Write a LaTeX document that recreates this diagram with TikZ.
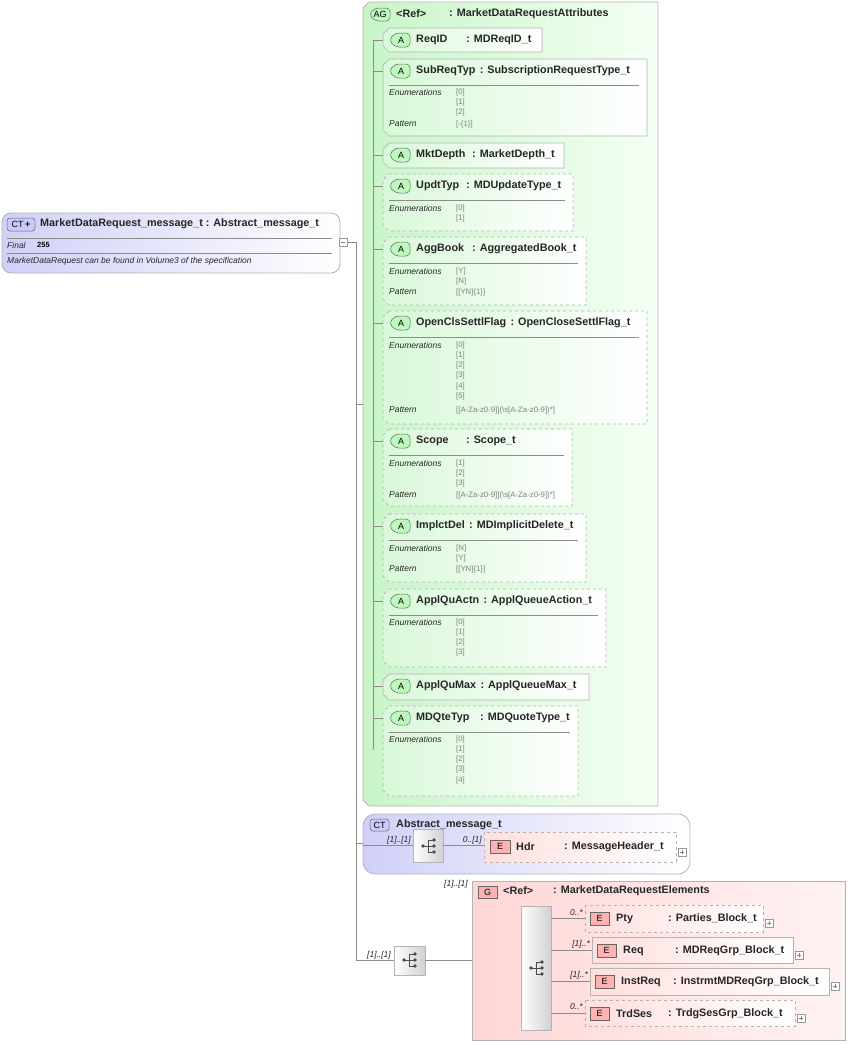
\documentclass[tikz,border=0pt]{standalone}
\usepackage{fontspec}
\setmainfont{Liberation Sans}
\usetikzlibrary{calc}
\definecolor{agg}{HTML}{C8F5C8}
\definecolor{ctb}{HTML}{D0D0F8}
\definecolor{gpk}{HTML}{FFD6D6}
\definecolor{bdr}{HTML}{B4B4B4}
\tikzset{
 lbl/.style={inner sep=0pt,anchor=west,font=\bfseries\fontsize{10.8}{12}\selectfont,text=black!85},
 sm/.style={inner sep=0pt,anchor=west,font=\itshape\fontsize{8.5}{9}\selectfont,text=black!85},
 val/.style={inner sep=0pt,anchor=west,font=\fontsize{7.8}{8}\selectfont,text=black!50},
 card/.style={inner sep=0pt,font=\itshape\fontsize{8.5}{9}\selectfont,text=black!85},
 bdg/.style={inner sep=0pt,font=\fontsize{9}{10}\selectfont},
 ln/.style={draw=black!45,line width=0.5pt},
 abox/.style={draw=bdr,line width=0.7pt,left color=agg!70,right color=white},
 badgeA/.style={draw=black!60,fill=agg!80!green!70,line width=0.5pt,rounded corners=4},
 ebox/.style={draw=bdr,line width=0.7pt,left color=gpk!80,right color=white},
 badgeE/.style={draw=black!60,fill=red!30,line width=0.5pt},
 seq/.style={draw=bdr,left color=white,right color=black!18,line width=0.6pt},
 plusb/.style={draw=black!40,fill=white,line width=0.4pt},
}
\newcommand\attrbox[8]{%
 \draw[abox,#5] (389,#2)--(#4,#2)--(#4,#3)--(389,#3)--(383,#3-6)--(383,#2+6)--cycle;
 \draw[badgeA] (410,#2+5)--(395,#2+5)--(389,#2+12)--(395,#2+19)--(410,#2+19)--cycle;
 \node[bdg] at (401,#2+12) {A};
 \node[lbl] (#1) at (416,#2+12) {#6};
 \path let \p1=(#1.east) in node[lbl] (#1t) at ({max(\x1+4,#7)},#2+12) {: #8};
 \coordinate (#1c) at (383,#2+12);
 \draw[ln] (373,#2+12)--(#1c);
}
\newcommand\sepl[2]{\draw[black!45,line width=0.5pt] (389,#1)--(#2,#1);}
\newcommand\enums[2]{%
 \node[sm] at (389,#1) {Enumerations};
 \foreach \v [count=\i from 0] in {#2} {\node[val] at (456,#1+\i*10.3) {[\v]};}
}
\newcommand\patt[2]{\node[sm] at (389,#1) {Pattern}; \node[val] at (456,#1) {#2};}
\newcommand\seqicon[2]{%
 \draw[black!70,line width=0.7pt] (#1-6,#2)--(#1-1,#2) (#1-1,#2-6)--(#1-1,#2+6) (#1-1,#2-6)--(#1+5,#2-6) (#1-1,#2)--(#1+5,#2) (#1-1,#2+6)--(#1+5,#2+6);
 \fill[black!70] (#1-6,#2) circle(1.8) (#1+5,#2-6) circle(1.9) (#1+5,#2) circle(1.9) (#1+5,#2+6) circle(1.9);
}
\newcommand\plusmark[2]{\draw[plusb] (#1,#2-4) rectangle (#1+8,#2+4); \draw[black!50,line width=0.4pt] (#1+2,#2)--(#1+6,#2) (#1+4,#2-2)--(#1+4,#2+2);}
\begin{document}
\begin{tikzpicture}[x=1pt,y=-1pt]
\useasboundingbox (0,0) rectangle (851,1045);
\coordinate (trb) at (356,960);
% AG box
\draw[draw=bdr,line width=0.8pt,left color=agg,right color=white!96!green] (369,2)--(658,2)--(658,806)--(369,806)--(363,800)--(363,8)--cycle;
\draw[badgeA] (390,8)--(375,8)--(369,14.5)--(375,21)--(390,21)--cycle;
\node[bdg] at (380,14.5) {AG};
\node[lbl] (agref) at (396,14) {<Ref>};
\node[lbl] (agname) at (449,14) {: MarketDataRequestAttributes};
\draw[ln] (373,40)--(373,750);
\attrbox{a1}{28}{52}{542}{solid}{ReqID}{466}{MDReqID\_t}
\attrbox{a2}{59}{136}{647}{solid}{SubReqTyp}{466}{SubscriptionRequestType\_t}
\sepl{85}{639}\enums{92}{0,1,2}\patt{124}{[-\{1\}]}
\attrbox{a3}{143}{168}{564}{solid}{MktDepth}{472}{MarketDepth\_t}
\attrbox{a4}{174}{231}{573}{dashed}{UpdtTyp}{466}{MDUpdateType\_t}
\sepl{200}{565}\enums{208}{0,1}
\attrbox{a5}{237}{305}{586}{dashed}{AggBook}{472}{AggregatedBook\_t}
\sepl{263}{578}\enums{271}{Y,N}\patt{292}{[[YN]\{1\}]}
\attrbox{a6}{311}{424}{647}{dashed}{OpenClsSettlFlag}{500}{OpenCloseSettlFlag\_t}
\sepl{337}{639}\enums{345}{0,1,2,3,4,5}\patt{410}{[[A-Za-z0-9]](\textbackslash s[A-Za-z0-9])*]}
\attrbox{a7}{429}{506}{572}{dashed}{Scope}{466}{Scope\_t}
\sepl{455}{564}\enums{463}{1,2,3}\patt{495}{[[A-Za-z0-9]](\textbackslash s[A-Za-z0-9])*]}
\attrbox{a8}{514}{582}{586}{dashed}{ImplctDel}{466}{MDImplicitDelete\_t}
\sepl{540}{578}\enums{548}{N,Y}\patt{569}{[[YN]\{1\}]}
\attrbox{a9}{589}{667}{606}{dashed}{ApplQuActn}{468}{ApplQueueAction\_t}
\sepl{615}{598}\enums{622}{0,1,2,3}
\attrbox{a10}{674}{700}{589}{solid}{ApplQuMax}{468}{ApplQueueMax\_t}
\attrbox{a11}{706}{796}{578}{dashed}{MDQteTyp}{480}{MDQuoteType\_t}
\sepl{732}{570}\enums{739}{0,1,2,3,4}
% main CT box
\draw[draw=bdr,line width=0.8pt,left color=ctb,right color=white,rounded corners=9] (2,213) rectangle (340,273);
\draw[draw=black!60,fill=ctb!80!blue!60,rounded corners=3,line width=0.5pt] (7,218) rectangle (35,231);
\node[bdg] at (21,224.5) {CT\,\textbf{+}};
\node[lbl] (ct) at (40,224) {MarketDataRequest\_message\_t : Abstract\_message\_t};
\draw[black!45,line width=0.5pt] (7,238)--(332,238) (7,253)--(332,253);
\node[sm] at (7,245) {Final};
\node[inner sep=0pt,anchor=west,font=\bfseries\fontsize{7.5}{8}\selectfont] at (37,244.5) {255};
\node[sm] at (7,261) {MarketDataRequest can be found in Volume3 of the specification};
\draw[plusb] (339,238) rectangle (347,246);
\draw[black!50,line width=0.4pt] (341,242)--(345,242);
\draw[ln] (347,242)--(356,242)--(trb);
\draw[ln] (356,404)--(363,404);
% Abstract CT
\draw[draw=bdr,line width=0.8pt,left color=ctb,right color=white,rounded corners=12] (363,814) rectangle (690,874);
\draw[draw=black!60,fill=ctb!80!blue!60,rounded corners=3,line width=0.5pt] (370,819) rectangle (389,831);
\node[bdg] at (379.5,825) {CT};
\node[lbl] (abs) at (396,825) {Abstract\_message\_t};
\draw[ln] (356,843)--(363,843);
\draw[seq] (413,829) rectangle (443,862);
\seqicon{429}{846}
\draw[ln] (363,845)--(413,845);
\node[card,anchor=east] at (411,840) {[1]..[1]};
\draw[ln] (443,845)--(484,845);
\node[card,anchor=east] at (482,840) {0..[1]};
\draw[ebox,dashed] (484,832) rectangle (676,862);
\draw[badgeE] (490,840) rectangle (510,853);
\node[bdg] at (500,846.5) {E};
\node[lbl] (hdr) at (516,847) {Hdr};
\node[lbl] at (564,847) {: MessageHeader\_t};
\plusmark{678}{852}
% bottom seq
\draw[ln] (trb)--(394,960);
\node[card,anchor=east] at (391,955) {[1]..[1]};
\draw[seq] (394,946) rectangle (425,975);
\seqicon{410}{960}
\draw[ln] (425,960)--(521,960);
\node[card,anchor=east] at (518,955) {[1]..[1]};
% G box
\draw[draw=bdr,line width=0.8pt,left color=gpk,right color=white!95!red] (472,881) rectangle (845,1040);
\node[card,anchor=east] at (468,884) {[1]..[1]};
\draw[badgeE] (478,886) rectangle (497,898);
\node[bdg] at (487.5,892) {G};
\node[lbl] (gref) at (503,891) {<Ref>};
\node[lbl] (gname) at (553,891) {: MarketDataRequestElements};
\draw[seq] (521,906) rectangle (551,1030);
\seqicon{537}{968}
\newcommand\elem[9]{%
 \draw[ln] (551,#2/2+#3/2)--(#4,#2/2+#3/2);
 \node[card,anchor=east] at (#4-2,#2/2+#3/2-6) {#9};
 \draw[ebox,#6] (#4,#2) rectangle (#5,#3);
 \draw[badgeE] (#4+5,#2+7) rectangle (#4+24,#2+20);
 \node[bdg] at (#4+14.5,#2+13.5) {E};
 \node[lbl] (#1) at (#4+31,#2+13.5) {#7};
 \node[lbl] at (#4+83,#2+13.5) {: #8};
 \plusmark{#5+2}{#2+18}
}
\elem{pty}{905}{932}{585}{763}{dashed}{Pty}{Parties\_Block\_t}{0..*}
\elem{req}{937}{963}{592}{793}{solid}{Req}{MDReqGrp\_Block\_t}{[1]..*}
\elem{ins}{968}{995}{590}{829}{solid}{InstReq}{InstrmtMDReqGrp\_Block\_t}{[1]..*}
\elem{trd}{1000}{1026}{585}{795}{dashed}{TrdSes}{TrdgSesGrp\_Block\_t}{0..*}
\end{tikzpicture}
\end{document}
